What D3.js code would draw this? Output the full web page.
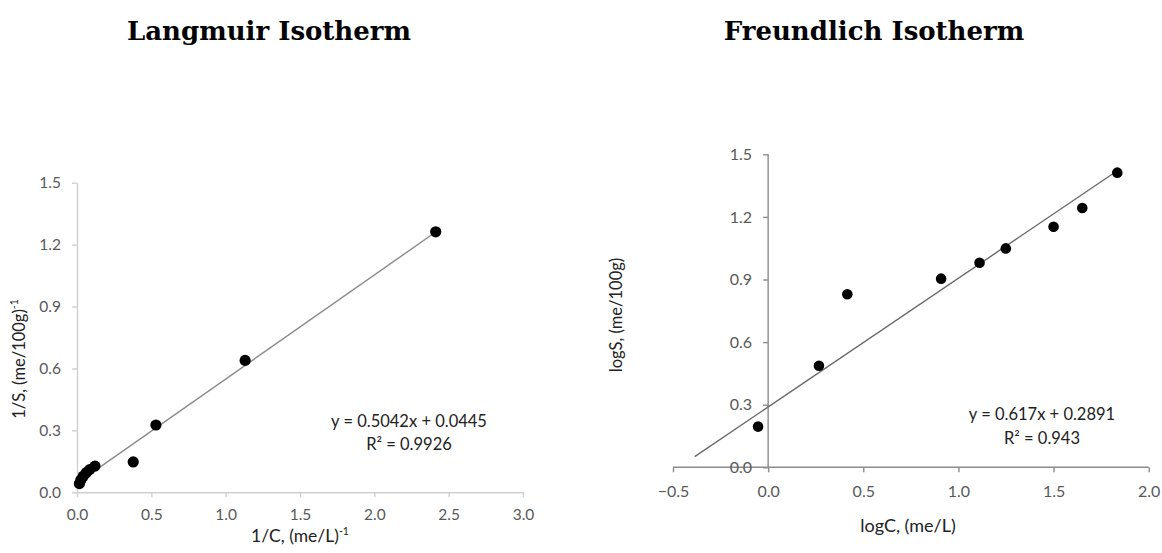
<!DOCTYPE html>
<html><head><meta charset="utf-8">
<script src="https://cdn.jsdelivr.net/npm/d3@7"></script>
<style>body{margin:0;background:#fff}</style>
</head><body>
<svg id="c" width="1162" height="553"></svg>
<script>
// Langmuir data
const langX = [2.413, 1.131, 0.531, 0.378, 0.121, 0.085, 0.062, 0.042, 0.026, 0.016];
const langY = [1.262, 0.639, 0.326, 0.147, 0.127, 0.110, 0.095, 0.078, 0.060, 0.042];
const langXTicks = [0, 0.5, 1.0, 1.5, 2.0, 2.5, 3.0];
const langYTicks = [0, 0.3, 0.6, 0.9, 1.2, 1.5];
const langFit = {slope: 0.5042, intercept: 0.0445, x0: 0.01, x1: 2.413};
// Freundlich data
const freX = [-0.053, 0.267, 0.416, 0.909, 1.111, 1.249, 1.50, 1.651, 1.835];
const freY = [0.195, 0.487, 0.829, 0.904, 0.980, 1.049, 1.153, 1.243, 1.412];
const freXTicks = [-0.5, 0, 0.5, 1.0, 1.5, 2.0];
const freYTicks = [0, 0.3, 0.6, 0.9, 1.2, 1.5];
const freFit = {slope: 0.617, intercept: 0.2891, x0: -0.386, x1: 1.835};

const svg = d3.select("#c");
const font = "Lato, 'Open Sans', sans-serif";

function panel(o) {
  const x = d3.scaleLinear().domain(o.xd).range(o.xr);
  const y = d3.scaleLinear().domain(o.yd).range(o.yr);
  const g = svg.append("g");
  const fmt = d3.format(".1f");
  const ax = g.append("g").attr("transform", `translate(0,${y(0)})`)
    .call(d3.axisBottom(x).tickValues(o.xt).tickFormat(fmt).tickSize(5).tickPadding(o.xPad).tickSizeOuter(0));
  const ay = g.append("g").attr("transform", `translate(${x(0)},0)`)
    .call(d3.axisLeft(y).tickValues(o.yt).tickFormat(fmt).tickSize(5).tickPadding(11).tickSizeOuter(0));
  [ax, ay].forEach(a => {
    a.select(".domain").attr("stroke", o.axisColor).attr("stroke-width", 1.4);
    a.selectAll(".tick line").attr("stroke", o.axisColor).attr("stroke-width", 1.4);
    a.selectAll(".tick text").attr("fill", "#595959").style("font-family", font).style("font-size", o.tickSize);
  });
  if (o.xd[0] < 0) {
    ay.select(".domain").attr("d", `M0,${y(o.yd[1])}V${y(0)}`);
    ax.select(".domain").attr("d", `M${x(o.xd[0])},0H${x(o.xd[1])}`);
  }
  // trendline
  g.append("line")
    .attr("x1", x(o.fit.x0)).attr("y1", y(o.fit.slope * o.fit.x0 + o.fit.intercept))
    .attr("x2", x(o.fit.x1)).attr("y2", y(o.fit.slope * o.fit.x1 + o.fit.intercept))
    .attr("stroke", o.lineColor).attr("stroke-width", 1.4);
  // points
  g.selectAll("circle.p").data(o.px.map((v, i) => [v, o.py[i]])).enter().append("circle")
    .attr("cx", d => x(d[0])).attr("cy", d => y(d[1])).attr("r", o.r).attr("fill", "#000");
  // equation
  const eq = g.append("text").attr("x", o.eqPos[0]).attr("y", o.eqPos[1]).attr("text-anchor", "middle")
    .style("font-family", font).style("font-size", "16.5px").attr("fill", "#222");
  eq.append("tspan").text(o.eq1);
  eq.append("tspan").attr("x", o.eqPos[0]).attr("dy", o.eqGap).text(o.eq2);
  // axis labels
  const xl = g.append("text").attr("x", o.xlPos[0]).attr("y", o.xlPos[1]).attr("text-anchor", "middle")
    .style("font-family", font).style("font-size", o.xlSize).attr("fill", "#222");
  o.xl(xl);
  const yl = g.append("text").attr("transform", `translate(${o.ylPos[0]},${o.ylPos[1]}) rotate(-90)`)
    .attr("text-anchor", "middle").style("font-family", font).style("font-size", o.ylSize).attr("fill", "#222");
  o.yl(yl);
  // title
  g.append("text").attr("x", o.titlePos[0]).attr("y", o.titlePos[1]).attr("text-anchor", "middle")
    .style("font-family", "'DejaVu Serif', serif").style("font-weight", "bold").style("font-size", "26px")
    .attr("fill", "#000").text(o.title);
}

panel({
  xd: [0, 3], xr: [77, 523], yd: [0, 1.5], yr: [492.3, 182.7],
  xt: langXTicks, yt: langYTicks, axisColor: "#d0d0d0", lineColor: "#8a8a8a",
  tickSize: "15.5px", xPad: 12,
  fit: langFit, px: langX, py: langY, r: 5.6,
  eq1: "y = 0.5042x + 0.0445", eq2: "R² = 0.9926", eqPos: [409, 427], eqGap: 23,
  xlPos: [300, 542], ylPos: [25, 359], xlSize: "17.5px", ylSize: "16.5px",
  xl: t => { t.append("tspan").text("1/C, (me/L)"); t.append("tspan").attr("dy", -7).style("font-size", "10.5px").text("-1"); },
  yl: t => { t.append("tspan").text("1/S, (me/100g)"); t.append("tspan").attr("dy", -7).style("font-size", "10.5px").text("-1"); },
  title: "Langmuir Isotherm", titlePos: [269, 40]
});

panel({
  xd: [-0.5, 2.0], xr: [673, 1148.7], yd: [0, 1.5], yr: [467.3, 154.3],
  xt: freXTicks, yt: freYTicks, axisColor: "#8c8c8c", lineColor: "#6a6a6a",
  tickSize: "16px", xPad: 13,
  fit: freFit, px: freX, py: freY, r: 5.3,
  eq1: "y = 0.617x + 0.2891", eq2: "R² = 0.943", eqPos: [1042, 420], eqGap: 24,
  xlPos: [908, 532], ylPos: [622, 315], xlSize: "18px", ylSize: "16.5px",
  xl: t => t.text("logC, (me/L)"),
  yl: t => t.text("logS, (me/100g)"),
  title: "Freundlich Isotherm", titlePos: [874, 40]
});
</script>
</body></html>
